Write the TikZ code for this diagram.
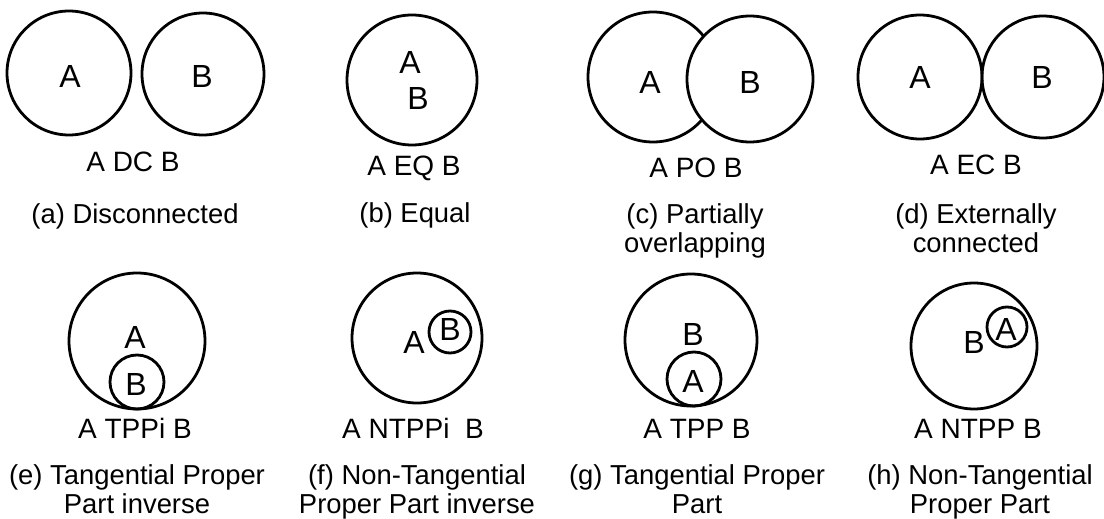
\documentclass[tikz,border=0pt]{standalone}
\usepackage{fontspec}
\setmainfont{Liberation Sans}
\begin{document}
\begin{tikzpicture}[x=0.5pt,y=-0.5pt,
  region/.style={circle, draw, line width=1.4pt, inner sep=0pt, minimum size=#1pt},
  letter/.style={font=\fontsize{16}{18}\selectfont, inner sep=0pt},
  rel/.style={font=\fontsize{14}{16}\selectfont, inner sep=0pt, anchor=base},
  caption/.style={font=\fontsize{13.7}{16}\selectfont, inner sep=0pt, anchor=base}]
\useasboundingbox (0,0) rectangle (1104,519);

% (a) disconnected
\node[region=62] (dcA) at (69,73) {};
\node[region=61] (dcB) at (203,74) {};
\node[letter] (dcAt) at (70,76) {A};
\node[letter] (dcBt) at (202,76) {B};
\node[rel] (dcRel) at (133,172) {A DC B};
\node[caption] (dcCap) at (135,223) {(a) Disconnected};

% (b) equal
\node[region=65] (eq) at (412,80) {};
\node[letter] (eqAt) at (410,62) {A};
\node[letter] (eqBt) at (418,98) {B};
\node[rel] (eqRel) at (414,176) {A EQ B};
\node[caption] (eqCap) at (415,222) {(b) Equal};

% (c) partially overlapping
\node[region=65] (poA) at (653,77) {};
\node[region=63, fill=white] (poB) at (750,79) {};
\node[letter] (poAt) at (650,82) {A};
\node[letter] (poBt) at (750,82) {B};
\node[rel] (poRel) at (696,177) {A PO B};
\node[caption] (poCap1) at (695,223) {(c) Partially};
\node[caption] (poCap2) at (695,252) {overlapping};

% (d) externally connected
\node[region=62] (ecA) at (920,77) {};
\node[region=61] (ecB) at (1043,77) {};
\node[letter] (ecAt) at (920,77) {A};
\node[letter] (ecBt) at (1042,77) {B};
\node[rel] (ecRel) at (976,175) {A EC B};
\node[caption] (ecCap1) at (976,223) {(d) Externally};
\node[caption] (ecCap2) at (976,252) {connected};

% (e) tangential proper part inverse
\node[region=68] (tppiA) at (137,341) {};
\node[region=27] (tppiB) at (137,382) {};
\node[letter] (tppiAt) at (135,337) {A};
\node[letter] (tppiBt) at (136,384) {B};
\node[rel] (tppiRel) at (135,438) {A TPPi B};
\node[caption] (tppiCap1) at (137,484) {(e) Tangential Proper};
\node[caption] (tppiCap2) at (137,513) {Part inverse};

% (f) non-tangential proper part inverse
\node[region=65] (ntppiA) at (417,338) {};
\node[region=21] (ntppiB) at (450,332) {};
\node[letter] (ntppiAt) at (414,342) {A};
\node[letter] (ntppiBt) at (450,329) {B};
\node[rel] (ntppiRel) at (413,438) {A NTPPi\ \ B};
\node[caption] (ntppiCap1) at (417,484) {(f) Non-Tangential};
\node[caption] (ntppiCap2) at (417,513) {Proper Part inverse};

% (g) tangential proper part
\node[region=66] (tppB) at (691,340) {};
\node[region=27] (tppA) at (694,379) {};
\node[letter] (tppBt) at (693,334) {B};
\node[letter] (tppAt) at (693,381) {A};
\node[rel] (tppRel) at (697,438) {A TPP B};
\node[caption] (tppCap1) at (697,484) {(g) Tangential Proper};
\node[caption] (tppCap2) at (697,513) {Part};

% (h) non-tangential proper part
\node[region=63] (ntppB) at (974,346) {};
\node[region=20] (ntppA) at (1007,327) {};
\node[letter] (ntppAt) at (1006,329) {A};
\node[letter] (ntppBt) at (974,342) {B};
\node[rel] (ntppRel) at (978,438) {A NTPP B};
\node[caption] (ntppCap1) at (980,484) {(h) Non-Tangential};
\node[caption] (ntppCap2) at (980,513) {Proper Part};
\end{tikzpicture}
\end{document}
